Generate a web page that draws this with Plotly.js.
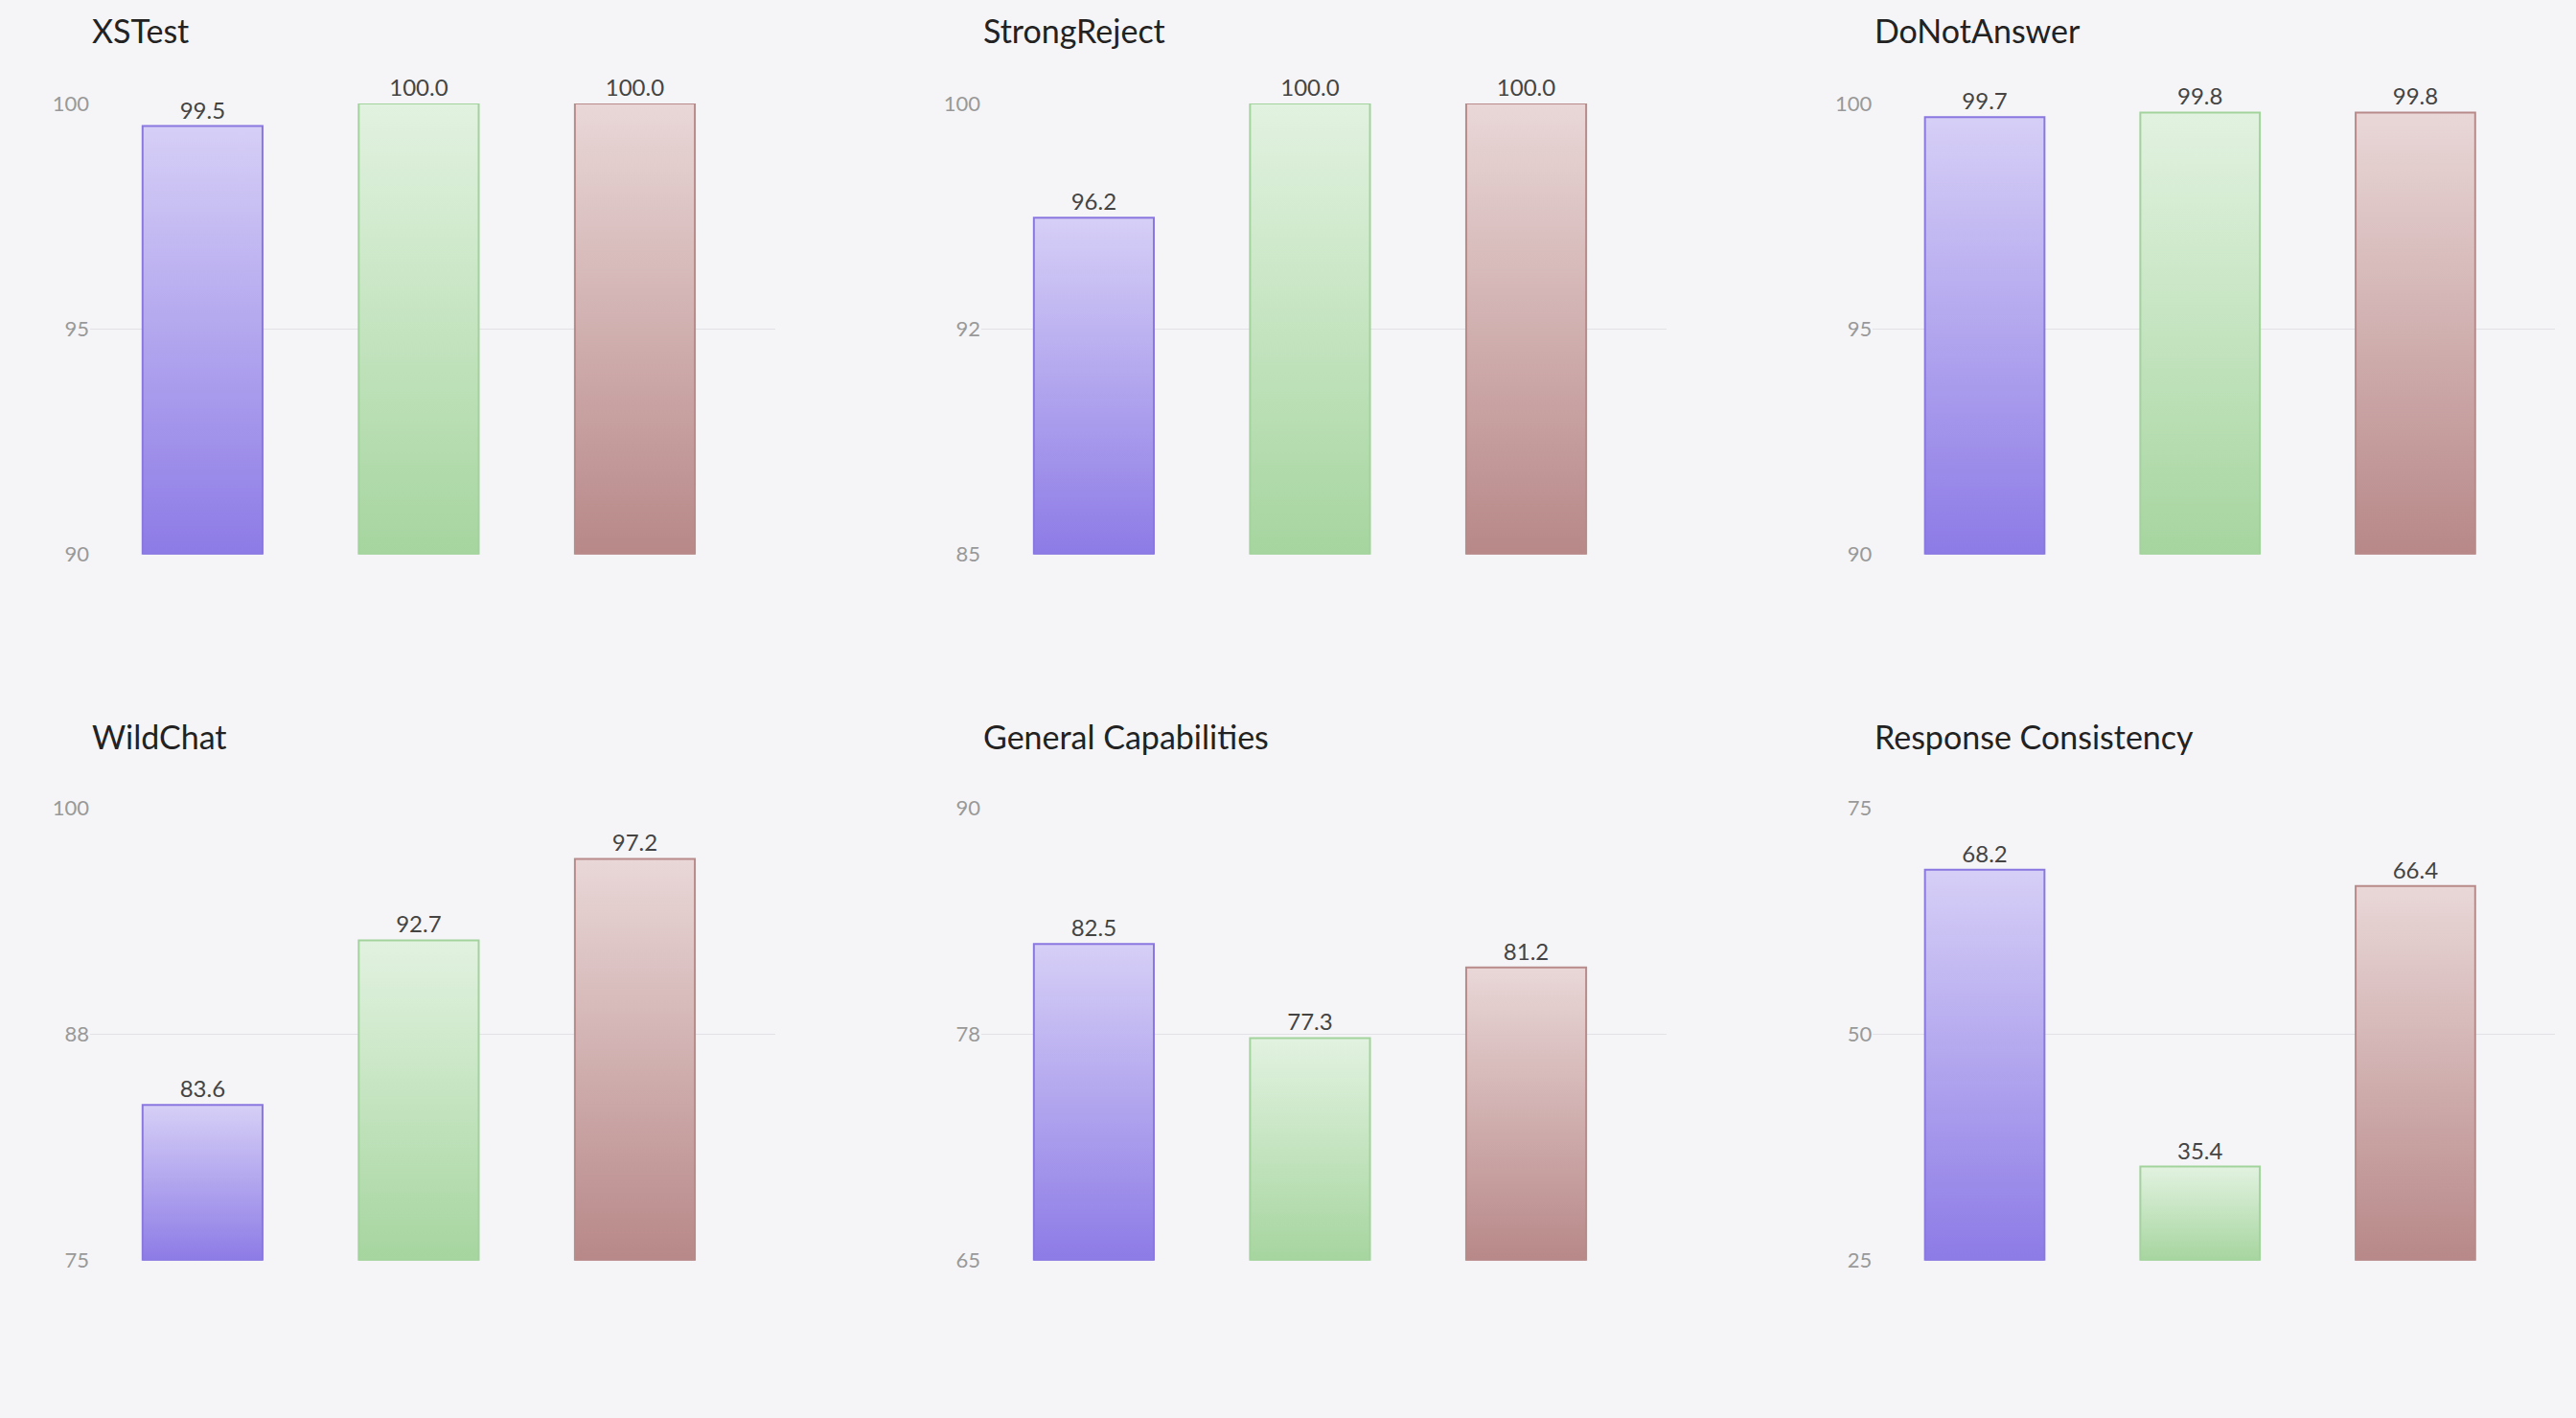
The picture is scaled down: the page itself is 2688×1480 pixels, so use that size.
<!DOCTYPE html>
<html>
<head>
<meta charset="utf-8">
<script src="https://cdn.plot.ly/plotly-3.0.1.min.js"></script>
<style>
  html, body { margin: 0; padding: 0; background: #f5f5f7; }
  #chart { width: 2688px; height: 1480px; }
</style>
</head>
<body>
<div id="chart"></div>
<script>
// data
const models = ['Qwen3-14B', 'Oyster-1', 'Oyster-2'];
const panels = ['XSTest', 'StrongReject', 'DoNotAnswer', 'WildChat', 'General Capabilities', 'Response Consistency'];
const qwen14b = [99.5, 96.2, 99.7, 83.6, 82.5, 68.2];
const oyster1 = [100.0, 100.0, 99.8, 92.7, 77.3, 35.4];
const oyster2 = [100.0, 100.0, 99.8, 97.2, 81.2, 66.4];
const yRanges = [[90, 100], [85, 100], [90, 100], [75, 100], [65, 90], [25, 75]];
const yTickVals = [[90, 95, 100], [85, 92.5, 100], [90, 95, 100], [75, 87.5, 100], [65, 77.5, 90], [25, 50, 75]];
const yTickText = [['90', '95', '100'], ['85', '92', '100'], ['90', '95', '100'], ['75', '88', '100'], ['65', '78', '90'], ['25', '50', '75']];
const legendNames = ['Qwen3-14B', 'Oyster-1', 'Qwen3.5-397B', 'Qwen3-Max', 'Oyster-2'];
const legendColors = ['#8f7ee6', '#a6d5a0', '#c8bff0', '#999999', '#b88a8a'];

const series = [qwen14b, oyster1, oyster2];
const outline = ['#8a78e0', '#a3d39d', '#b88a8a'];
const gradIds = ['gPurple', 'gGreen', 'gRose'];

const FONT = 'Lato, "Open Sans", sans-serif';
const xDomains = [[0.035, 0.301], [0.381, 0.647], [0.727, 0.992]];
const yDomains = [[0.609, 0.927], [0.111, 0.430]];

const traces = [];
const layout = {
    width: 2688, height: 1480,
    paper_bgcolor: '#f5f5f7',
    plot_bgcolor: '#f5f5f7',
    font: { family: FONT, color: '#444' },
    margin: { l: 0, r: 0, t: 0, b: 0 },
    showlegend: true,
    legend: {
        orientation: 'h', x: 0.5, xanchor: 'center', y: 0.033, yanchor: 'middle',
        font: { size: 29, color: '#333' }, itemwidth: 40, traceorder: 'normal'
    },
    bargap: 0.45,
    annotations: []
};

// legend-only entries
legendNames.forEach((name, i) => {
    traces.push({
        type: 'bar', x: [], y: [], name: name,
        marker: { color: legendColors[i] }, xaxis: 'x', yaxis: 'y'
    });
});

panels.forEach((title, p) => {
    const n = p + 1;
    const xa = 'xaxis' + (n === 1 ? '' : n);
    const ya = 'yaxis' + (n === 1 ? '' : n);
    const col = p % 3, row = Math.floor(p / 3);
    layout[xa] = {
        domain: xDomains[col], anchor: 'y' + (n === 1 ? '' : n),
        range: [-0.52, 2.65], showticklabels: false, showgrid: false,
        zeroline: false, fixedrange: true
    };
    layout[ya] = {
        domain: yDomains[row], anchor: 'x' + (n === 1 ? '' : n),
        range: yRanges[p], tickvals: yTickVals[p], ticktext: yTickText[p],
        gridcolor: '#e2e2e6', gridwidth: 1.5, zeroline: false,
        tickfont: { size: 22, color: '#999' }, ticks: '', ticklen: 0
    };
    layout.annotations.push({
        text: title, xref: 'paper', yref: 'paper',
        x: xDomains[col][0], y: row === 0 ? 0.979 : 0.481,
        xanchor: 'left', yanchor: 'middle', showarrow: false,
        font: { size: 34, color: '#222', family: FONT }
    });
    series.forEach((vals, s) => {
        traces.push({
            type: 'bar', x: [models[s]], y: [vals[p]], base: yRanges[p][0] - 0,
            showlegend: false, name: models[s],
            xaxis: 'x' + (n === 1 ? '' : n), yaxis: 'y' + (n === 1 ? '' : n),
            width: 0.555,
            marker: { color: legendColors[s === 2 ? 4 : s], line: { color: outline[s], width: 2 } },
            text: [vals[p].toFixed(1)], textposition: 'outside',
            textfont: { size: 24, color: '#444' }, cliponaxis: false,
            meta: gradIds[s], hoverinfo: 'y'
        });
    });
});

// bars are drawn from axis bottom
traces.forEach(t => { if (t.base !== undefined) { t.y = [t.y[0] - t.base]; t.text = t.text; } });

function applyGradients(gd) {
    const svg = gd.querySelector('svg.main-svg');
    const ns = 'http://www.w3.org/2000/svg';
    let defs = svg.querySelector('defs');
    const stops = {
        gPurple: ['#d6cff6', '#8d7be6'],
        gGreen: ['#e2f2e0', '#a6d59f'],
        gRose: ['#e9d7d7', '#b88888']
    };
    Object.keys(stops).forEach(id => {
        if (svg.querySelector('#' + id)) return;
        const g = document.createElementNS(ns, 'linearGradient');
        g.setAttribute('id', id);
        g.setAttribute('x1', '0'); g.setAttribute('y1', '0');
        g.setAttribute('x2', '0'); g.setAttribute('y2', '1');
        stops[id].forEach((c, k) => {
            const st = document.createElementNS(ns, 'stop');
            st.setAttribute('offset', k === 0 ? '0%' : '100%');
            st.setAttribute('stop-color', c);
            g.appendChild(st);
        });
        defs.appendChild(g);
    });
    gd.querySelectorAll('.barlayer .trace').forEach(tr => {
        const d = tr.__data__;
        const t = d && d[0] && d[0].trace;
        if (!t || !t.meta) return;
        tr.querySelectorAll('path').forEach(pth => { pth.style.fill = 'url(#' + t.meta + ')'; pth.style.fillOpacity = 1; });
    });
}

Plotly.newPlot('chart', traces, layout, { displayModeBar: false, staticPlot: true })
    .then(gd => applyGradients(gd));
</script>
</body>
</html>
